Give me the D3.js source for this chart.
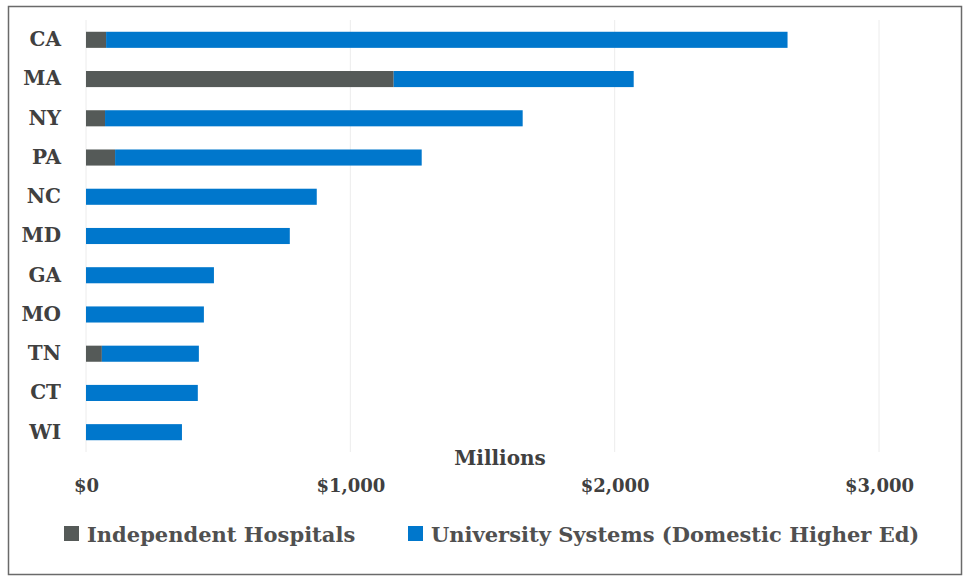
<!DOCTYPE html>
<html>
<head>
<meta charset="utf-8">
<script src="https://cdn.jsdelivr.net/npm/d3@7"></script>
<style>
  html, body { margin: 0; padding: 0; background: #fff; }
  svg { display: block; }
</style>
</head>
<body>
<svg id="chart" width="964" height="577"></svg>
<script>
// States, ordered largest total first
const states = ["CA", "MA", "NY", "PA", "NC", "MD", "GA", "MO", "TN", "CT", "WI"];
// Independent hospitals ($ millions)
const hospitals = [76, 1164, 72, 110, 0, 0, 0, 0, 60, 0, 0];
// University systems, domestic higher ed ($ millions)
const universities = [2578, 908, 1580, 1160, 873, 771, 484, 446, 367, 423, 363];
const seriesNames = ["Independent Hospitals", "University Systems (Domestic Higher Ed)"];
const seriesColors = ["#555a58", "#0077cc"];
const tickValues = [0, 1000, 2000, 3000];

const svg = d3.select("#chart");

// outer frame
svg.append("rect")
  .attr("x", 8.5).attr("y", 6.5)
  .attr("width", 953).attr("height", 568)
  .attr("fill", "#fff").attr("stroke", "#6a6a6a").attr("stroke-width", 1.5);

const plot = { left: 86, right: 879, top: 20, bottom: 452 };

const x = d3.scaleLinear().domain([0, 3000]).range([plot.left, plot.right]);
const y = d3.scaleBand().domain(states).range([plot.top, plot.bottom]).paddingInner(0.59).paddingOuter(0.3);

const font = "'DejaVu Serif', serif";
const textColor = "#404040";

// vertical gridlines
svg.append("g")
  .selectAll("line")
  .data(tickValues)
  .join("line")
  .attr("x1", d => x(d)).attr("x2", d => x(d))
  .attr("y1", plot.top).attr("y2", plot.bottom)
  .attr("stroke", "#ececec").attr("stroke-width", 1);

// stacked bars
const rows = states.map((s, i) => ({ state: s, hosp: hospitals[i], univ: universities[i] }));
const stack = d3.stack().keys(["hosp", "univ"])(rows);

svg.append("g")
  .selectAll("g")
  .data(stack)
  .join("g")
  .attr("fill", (d, i) => seriesColors[i])
  .selectAll("rect")
  .data(d => d.filter(p => p[1] > p[0]))
  .join("rect")
  .attr("x", d => x(d[0]))
  .attr("width", d => x(d[1]) - x(d[0]))
  .attr("y", d => y(d.data.state))
  .attr("height", y.bandwidth());

// category axis labels
const yAxis = d3.axisLeft(y).tickSize(0).tickPadding(10);
const gy = svg.append("g").attr("transform", `translate(${plot.left - 15},0)`).call(yAxis);
gy.select(".domain").remove();
gy.selectAll("text")
  .attr("font-family", font).attr("font-weight", "bold")
  .attr("font-size", 20).attr("fill", textColor);

// value axis labels
const xAxis = d3.axisBottom(x).tickValues(tickValues).tickSize(0).tickPadding(0)
  .tickFormat(d => "$" + d3.format(",")(d));
const gx = svg.append("g").attr("transform", `translate(0,${479})`).call(xAxis);
gx.select(".domain").remove();
gx.selectAll("text")
  .attr("font-family", font).attr("font-weight", "bold")
  .attr("font-size", 18).attr("fill", textColor)
  .attr("dy", "0.71em");

// axis title
svg.append("text")
  .attr("x", 500).attr("y", 465)
  .attr("text-anchor", "middle")
  .attr("font-family", font).attr("font-weight", "bold")
  .attr("font-size", 20).attr("fill", textColor)
  .text("Millions");

// legend
const legendItems = [
  { name: seriesNames[0], color: seriesColors[0], x: 64 },
  { name: seriesNames[1], color: seriesColors[1], x: 408 }
];
const lg = svg.append("g").selectAll("g").data(legendItems).join("g")
  .attr("transform", d => `translate(${d.x},0)`);
lg.append("rect")
  .attr("x", 0).attr("y", 526).attr("width", 15).attr("height", 15)
  .attr("fill", d => d.color);
lg.append("text")
  .attr("x", 23).attr("y", 542)
  .attr("font-family", font).attr("font-weight", "bold")
  .attr("font-size", 21).attr("fill", "#505050")
  .text(d => d.name);
</script>
</body>
</html>
